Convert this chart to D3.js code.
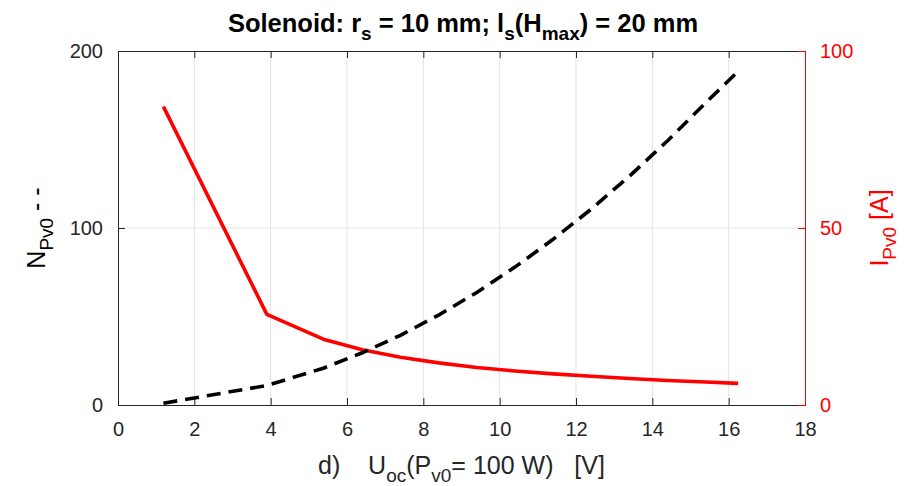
<!DOCTYPE html>
<html>
<head>
<meta charset="utf-8">
<script src="https://cdn.jsdelivr.net/npm/d3@7/dist/d3.min.js"></script>
<style>
  html, body { margin: 0; padding: 0; background: #fff; }
  svg { display: block; font-family: "Liberation Sans", Arial, Helvetica, sans-serif; }
</style>
</head>
<body>
<svg id="chart" width="920" height="486"></svg>
<script>
// ---- data ----
const uoc = [1.19, 3.9, 5.38, 6.4, 7.4, 8.4, 9.4, 10.4, 11.4, 12.4, 13.4, 14.4, 15.4, 16.25];
const nPv0 = [1.0, 11.0, 20.8, 29.5, 39.4, 50.8, 63.6, 77.9, 93.6, 110.7, 129.3, 149.3, 170.8, 188.5];
const iPv0 = [84.3, 25.6, 18.6, 15.6, 13.5, 11.9, 10.6, 9.6, 8.8, 8.1, 7.5, 6.9, 6.5, 6.1];
const xTicks = [0, 2, 4, 6, 8, 10, 12, 14, 16, 18];
const yLeftTicks = [0, 100, 200];
const yRightTicks = [0, 50, 100];

// ---- layout ----
const svg = d3.select("#chart");
const m = { left: 118, right: 805, top: 51, bottom: 405 };
const x = d3.scaleLinear().domain([0, 18]).range([m.left, m.right]);
const yL = d3.scaleLinear().domain([0, 200]).range([m.bottom, m.top]);
const yR = d3.scaleLinear().domain([0, 100]).range([m.bottom, m.top]);
const tickCol = "#262626";
const gridCol = "#e3e3e3";
const tickLen = 7;
const tickFont = 20;
const labFont = 25, subFont = 19;

// grid
svg.append("g").selectAll("line").data(xTicks.slice(1, -1)).join("line")
  .attr("x1", d => x(d)).attr("x2", d => x(d))
  .attr("y1", m.top).attr("y2", m.bottom)
  .attr("stroke", gridCol).attr("stroke-width", 1);
svg.append("g").selectAll("line").data(yLeftTicks.slice(1, -1)).join("line")
  .attr("x1", m.left).attr("x2", m.right)
  .attr("y1", d => yL(d)).attr("y2", d => yL(d))
  .attr("stroke", gridCol).attr("stroke-width", 1);

// bottom axis (ticks inward)
const xAxis = d3.axisBottom(x).tickValues(xTicks).tickSize(-tickLen).tickPadding(tickLen + 10);
const gx = svg.append("g").attr("transform", `translate(0,${m.bottom})`).call(xAxis);
gx.select(".domain").attr("stroke", tickCol);
gx.selectAll(".tick line").attr("stroke", tickCol);
gx.selectAll(".tick text").attr("fill", tickCol).attr("font-size", tickFont)
  .attr("font-family", "Liberation Sans, Arial, sans-serif");

// top axis (ticks inward, no labels)
const xTop = d3.axisTop(x).tickValues(xTicks).tickSize(-tickLen).tickFormat("");
const gt = svg.append("g").attr("transform", `translate(0,${m.top})`).call(xTop);
gt.select(".domain").attr("stroke", tickCol);
gt.selectAll(".tick line").attr("stroke", tickCol);

// left axis
const yAxisL = d3.axisLeft(yL).tickValues(yLeftTicks).tickSize(-tickLen).tickPadding(tickLen + 8);
const gl = svg.append("g").attr("transform", `translate(${m.left},0)`).call(yAxisL);
gl.select(".domain").attr("stroke", tickCol);
gl.selectAll(".tick line").attr("stroke", tickCol);
gl.selectAll(".tick text").attr("fill", tickCol).attr("font-size", tickFont)
  .attr("font-family", "Liberation Sans, Arial, sans-serif");

// right axis (red)
const yAxisR = d3.axisRight(yR).tickValues(yRightTicks).tickSize(-tickLen).tickPadding(tickLen + 8);
const gr = svg.append("g").attr("transform", `translate(${m.right},0)`).call(yAxisR);
gr.select(".domain").attr("stroke", "#ff0000");
gr.selectAll(".tick line").attr("stroke", "#ff0000");
gr.selectAll(".tick text").attr("fill", "#ff0000").attr("font-size", tickFont)
  .attr("font-family", "Liberation Sans, Arial, sans-serif");

// lines
const lineN = d3.line().x((d, i) => x(uoc[i])).y(d => yL(d));
const lineI = d3.line().x((d, i) => x(uoc[i])).y(d => yR(d));
svg.append("path").datum(iPv0).attr("d", lineI)
  .attr("fill", "none").attr("stroke", "#ff0000").attr("stroke-width", 3.6)
  .attr("stroke-linejoin", "round");
svg.append("path").datum(nPv0).attr("d", lineN)
  .attr("fill", "none").attr("stroke", "#000").attr("stroke-width", 3.6)
  .attr("stroke-dasharray", "14,8");

// title
const title = svg.append("text").attr("x", 463).attr("y", 32)
  .attr("text-anchor", "middle").attr("font-weight", "bold").attr("font-size", 25.5).attr("fill", "#000");
title.append("tspan").text("Solenoid: r");
title.append("tspan").attr("dy", 8).attr("font-size", 19).text("s");
title.append("tspan").attr("dy", -8).text(" = 10 mm; l");
title.append("tspan").attr("dy", 8).attr("font-size", 19).text("s");
title.append("tspan").attr("dy", -8).text("(H");
title.append("tspan").attr("dy", 8).attr("font-size", 19).text("max");
title.append("tspan").attr("dy", -8).text(") = 20 mm");

// x label
const xl = svg.append("text").attr("x", 461.5).attr("y", 474)
  .attr("text-anchor", "middle").attr("font-size", labFont).attr("fill", tickCol)
  .attr("xml:space", "preserve");
xl.append("tspan").text("d)    U");
xl.append("tspan").attr("dy", 8).attr("font-size", subFont).text("oc");
xl.append("tspan").attr("dy", -8).text("(P");
xl.append("tspan").attr("dy", 8).attr("font-size", subFont).text("v0");
xl.append("tspan").attr("dy", -8).text("= 100 W)   [V]");

// left y label
const ylab = svg.append("text")
  .attr("transform", `translate(45,${(m.top + m.bottom) / 2}) rotate(-90)`)
  .attr("text-anchor", "middle").attr("font-size", labFont).attr("fill", "#000")
  .attr("xml:space", "preserve");
ylab.append("tspan").text("N");
ylab.append("tspan").attr("dy", 8).attr("font-size", subFont).text("Pv0");
ylab.append("tspan").attr("dy", -8).text(" - -");

// right y label
const yrlab = svg.append("text")
  .attr("transform", `translate(888,${(m.top + m.bottom) / 2}) rotate(-90)`)
  .attr("text-anchor", "middle").attr("font-size", labFont).attr("fill", "#ff0000")
  .attr("xml:space", "preserve");
yrlab.append("tspan").text("I");
yrlab.append("tspan").attr("dy", 8).attr("font-size", subFont).text("Pv0");
yrlab.append("tspan").attr("dy", -8).text(" [A]");
</script>
</body>
</html>
